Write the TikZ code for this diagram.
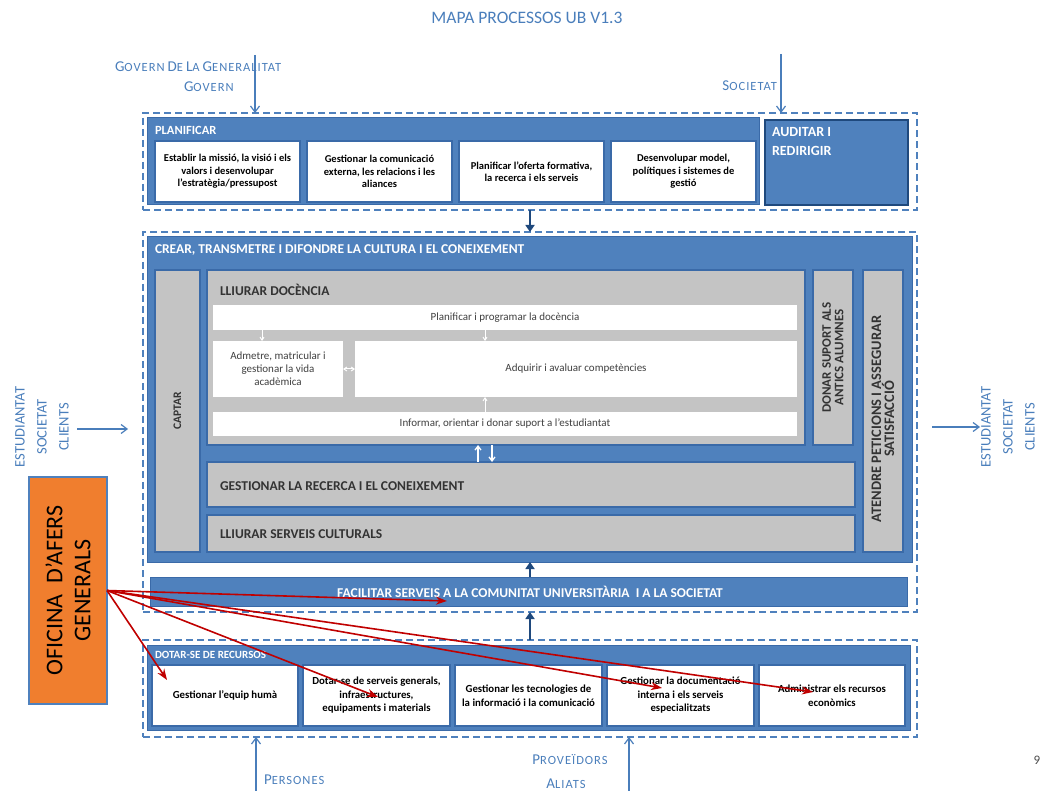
\documentclass[tikz,border=0pt]{standalone}
\usepackage{fontspec}
\setmainfont{Carlito}
\usetikzlibrary{arrows.meta}
\definecolor{ubblue}{HTML}{4F81BD}
\definecolor{ubedge}{HTML}{3A6AA8}
\definecolor{ubdark}{HTML}{1F497D}
\definecolor{ubgray}{HTML}{C4C4C4}
\definecolor{lbl}{HTML}{4A7EBB}
\definecolor{afers}{HTML}{F07E2E}
\definecolor{redarr}{HTML}{C00000}
% box with its top-left corner at #3 = x,y, size #4 x #5
\newcommand\ubbox[6]{\node[#1, anchor=north west, minimum width=#4pt, minimum height=#5pt] (#2) at (#3) {#6};}
% hand-made small capitals for the outside actors
\newcommand\capsc[2]{{\fontsize{15}{17}\selectfont #1}{\fontsize{12.5}{15}\selectfont #2}}
\begin{document}
\begin{tikzpicture}[x=1pt,y=-1pt,
  every node/.style={inner sep=0pt, outer sep=0pt},
  dashbox/.style={draw=ubblue, line width=1.8pt, dash pattern=on 7pt off 4pt},
  bluebox/.style={fill=ubblue, draw=ubedge, line width=1pt},
  wbox/.style={fill=white, draw=ubedge, line width=1.5pt, align=center, font=\bfseries\fontsize{10.8}{13.5}\selectfont},
  pbox/.style={wbox, font=\bfseries\fontsize{10.5}{12.5}\selectfont},
  gbox/.style={fill=ubgray, draw=ubedge, line width=1.5pt},
  ibox/.style={fill=white, align=center, text=black!75, font=\fontsize{11}{13}\selectfont},
  glabel/.style={anchor=west, text=black!80, font=\bfseries\fontsize{13.5}{15}\selectfont},
  vlabel/.style={rotate=90, align=center, text=black!80, font=\bfseries\fontsize{13}{12.5}\selectfont},
  wlabel/.style={anchor=west, text=white, font=\bfseries\fontsize{13.5}{15}\selectfont},
  toplabel/.style={text=lbl, font=\addfontfeatures{LetterSpace=8}},
  sidelabel/.style={rotate=90, align=center, text=lbl, font=\fontsize{14.5}{22}\selectfont},
  inarrow/.style={draw=lbl, line width=1.2pt, -{Straight Barb[length=6pt,width=9pt]}},
  flow/.style={draw=ubdark, line width=2.2pt, -{Triangle[length=7pt,width=9pt]}},
  warrow/.style={draw=white, line width=1pt, -{Straight Barb[length=3pt,width=4pt]}},
  redarrow/.style={draw=redarr, line width=1.6pt, -{Stealth[length=11pt,width=8pt]}}]
\useasboundingbox (0,0) rectangle (1047,791);

% title and outside actors
\node[text=lbl, font=\fontsize{17.5}{20}\selectfont] (title) at (527,18) {MAPA PROCESSOS UB V1.3};
\node[toplabel, anchor=base west] (gen) at (115,72) {\capsc{G}{OVERN} \capsc{D}{E} \capsc{L}{A} \capsc{G}{ENERALITAT}};
\node[toplabel, anchor=base west] (gov) at (184,92) {\capsc{G}{OVERN}};
\node[toplabel, anchor=base east] (soc) at (777,91) {\capsc{S}{OCIETAT}};
\coordinate (govtop) at (255,55);
\coordinate (soctop) at (781,54);

% PLANIFICAR
\ubbox{dashbox}{plandash}{143,113}{774}{97}{}
\ubbox{bluebox}{plan}{147,118}{612}{87}{}
\node[wlabel, font=\bfseries\fontsize{12.5}{14}\selectfont] (planl) at (155,130) {PLANIFICAR};
\ubbox{pbox}{p1}{155,141}{145}{61}{Establir la missió, la visió i els\\valors i desenvolupar\\l'estratègia/pressupost}
\ubbox{pbox}{p2}{307,141}{145}{61}{Gestionar la comunicació\\externa, les relacions i les\\aliances}
\ubbox{pbox}{p3}{459,141}{145}{61}{Planificar l'oferta formativa,\\la recerca i els serveis}
\ubbox{pbox}{p4}{611,141}{145}{61}{Desenvolupar model,\\polítiques i sistemes de\\gestió}
\ubbox{bluebox}{aud}{765,120}{143}{85}{}
\draw[ubdark, line width=1.5pt] (aud.north west) rectangle (aud.south east);
\node[anchor=north west, align=left, text=white, font=\bfseries\fontsize{14}{19}\selectfont] (audl) at (772,127) {AUDITAR I\\REDIRIGIR};

% CREAR, TRANSMETRE I DIFONDRE
\ubbox{dashbox}{creardash}{143,232}{774}{380}{}
\ubbox{bluebox}{crear}{147,237}{765}{325}{}
\node[wlabel] (crearl) at (155,250) {CREAR, TRANSMETRE I DIFONDRE LA CULTURA I EL CONEIXEMENT};
\ubbox{gbox}{captar}{155,270}{45}{282}{}
\node[vlabel, font=\bfseries\fontsize{11.5}{13}\selectfont] (captarl) at (captar.center) {CAPTAR};
\ubbox{gbox}{docencia}{207,270}{598}{175}{}
\node[glabel] (docl) at (220,290) {LLIURAR DOCÈNCIA};
\ubbox{ibox}{progr}{213,305}{584}{25}{Planificar i programar la docència}
\ubbox{ibox}{admet}{213,341}{130}{56}{Admetre, matricular i\\gestionar la vida\\acadèmica}
\ubbox{ibox}{adqu}{355,341}{442}{56}{Adquirir i avaluar competències}
\ubbox{ibox}{infor}{213,412}{584}{24}{Informar, orientar i donar suport a l'estudiantat}
\ubbox{gbox}{recerca}{207,462}{648}{45}{}
\node[glabel] (recercal) at (220,486) {GESTIONAR LA RECERCA I EL CONEIXEMENT};
\ubbox{gbox}{cultura}{207,515}{648}{37}{}
\node[glabel] (culturall) at (220,534) {LLIURAR SERVEIS CULTURALS};
\ubbox{gbox}{antics}{813,270}{40}{175}{}
\node[vlabel] (anticsl) at (antics.center) {DONAR SUPORT ALS\\ANTICS ALUMNES};
\ubbox{gbox}{atendre}{863,270}{40}{282}{}
\node[vlabel, font=\bfseries\fontsize{14.5}{13}\selectfont] (atendrel) at ([yshift=-8pt]atendre.center) {ATENDRE PETICIONS I ASSEGURAR\\SATISFACCIÓ};

% small white links inside LLIURAR DOCÈNCIA
\draw[warrow] (262,330) -- (262,341);
\draw[warrow] (485,330) -- (485,341);
\draw[warrow] (485,412) -- (485,397);
\draw[draw=white, line width=1pt, {Straight Barb[length=3pt,width=4pt]}-{Straight Barb[length=3pt,width=4pt]}] (admet.east) -- (adqu.west |- admet.east);
\draw[draw=white, line width=1.3pt, -{Straight Barb[length=4pt,width=6pt]}] (478,462) -- (478,445);
\draw[draw=white, line width=1.3pt, -{Straight Barb[length=4pt,width=6pt]}] (492,445) -- (492,462);

% FACILITAR
\ubbox{bluebox}{facil}{150,577}{757}{29}{}
\node[text=white, font=\bfseries\fontsize{13.5}{15}\selectfont] (facill) at (530,591.5) {FACILITAR SERVEIS A LA COMUNITAT UNIVERSITÀRIA\ \ I A LA SOCIETAT};

% DOTAR-SE DE RECURSOS
\ubbox{dashbox}{dotardash}{143,640}{774}{97}{}
\ubbox{bluebox}{dotar}{147,645}{763}{85}{}
\node[wlabel, font=\bfseries\fontsize{11}{13}\selectfont] (dotarl) at (155,655) {DOTAR-SE DE RECURSOS};
\ubbox{wbox}{d1}{152,665}{146}{61}{Gestionar l'equip humà}
\ubbox{wbox}{d2}{303,665}{147}{61}{Dotar-se de serveis generals,\\infraestructures,\\equipaments i materials}
\ubbox{wbox}{d3}{455,665}{147}{61}{Gestionar les tecnologies de\\la informació i la comunicació}
\ubbox{wbox}{d4}{607,665}{147}{61}{Gestionar la documentació\\interna i els serveis\\especialitzats}
\ubbox{wbox}{d5}{759,665}{146}{61}{Administrar els recursos\\econòmics}

% flows between the blocks
\draw[flow] (plandash.south -| 530,0) -- (creardash.north -| 530,0);
\draw[flow] (facil.north -| 530,0) -- (crear.south -| 530,0);
\draw[flow] (dotardash.north -| 530,0) -- (creardash.south -| 530,0);

% outside actors and their arrows
\draw[inarrow] (govtop) -- (plandash.north -| govtop);
\draw[inarrow] (soctop) -- (plandash.north -| soctop);
\node[sidelabel] (clientsl) at (42,427) {ESTUDIANTAT\\SOCIETAT\\CLIENTS};
\coordinate (clin) at (77,429);
\draw[inarrow] (clin) -- ([xshift=-15pt]creardash.west |- clin);
\node[sidelabel] (clientsr) at (1008,427) {ESTUDIANTAT\\SOCIETAT\\CLIENTS};
\coordinate (clout) at (980,427);
\draw[inarrow] ([xshift=15pt]creardash.east |- clout) -- (clout);
\node[toplabel, anchor=base west] (pers) at (264,784) {\capsc{P}{ERSONES}};
\node[toplabel, anchor=base] (prov) at (570,764) {\capsc{P}{ROVEÏDORS}};
\node[toplabel, anchor=base] (aliats) at (566,788) {\capsc{A}{LIATS}};
\coordinate (persbot) at (256,791);
\coordinate (provbot) at (629,791);
\draw[inarrow] (persbot) -- (dotardash.south -| persbot);
\draw[inarrow] (provbot) -- (dotardash.south -| provbot);
\node[text=black!70, font=\fontsize{13}{15}\selectfont] (page) at (1037,760) {9};

% OFICINA D'AFERS GENERALS
\ubbox{}{afers}{29,477}{78}{227}{}
\draw[fill=afers, draw=ubblue, line width=1.5pt] (afers.north west) rectangle (afers.south east);
\node[rotate=90, align=center, font=\fontsize{24}{28}\selectfont] (afersl) at (afers.center) {OFICINA\ \ D'AFERS\\GENERALS};
\coordinate (t1) at (447,601);
\coordinate (t2) at (167,680);
\coordinate (t3) at (378,697);
\coordinate (t4) at (662,688);
\coordinate (t5) at (813,692);
\foreach \t in {t1,t2,t3,t4,t5} \draw[redarrow] (afers.east) -- (\t);
\end{tikzpicture}
\end{document}
